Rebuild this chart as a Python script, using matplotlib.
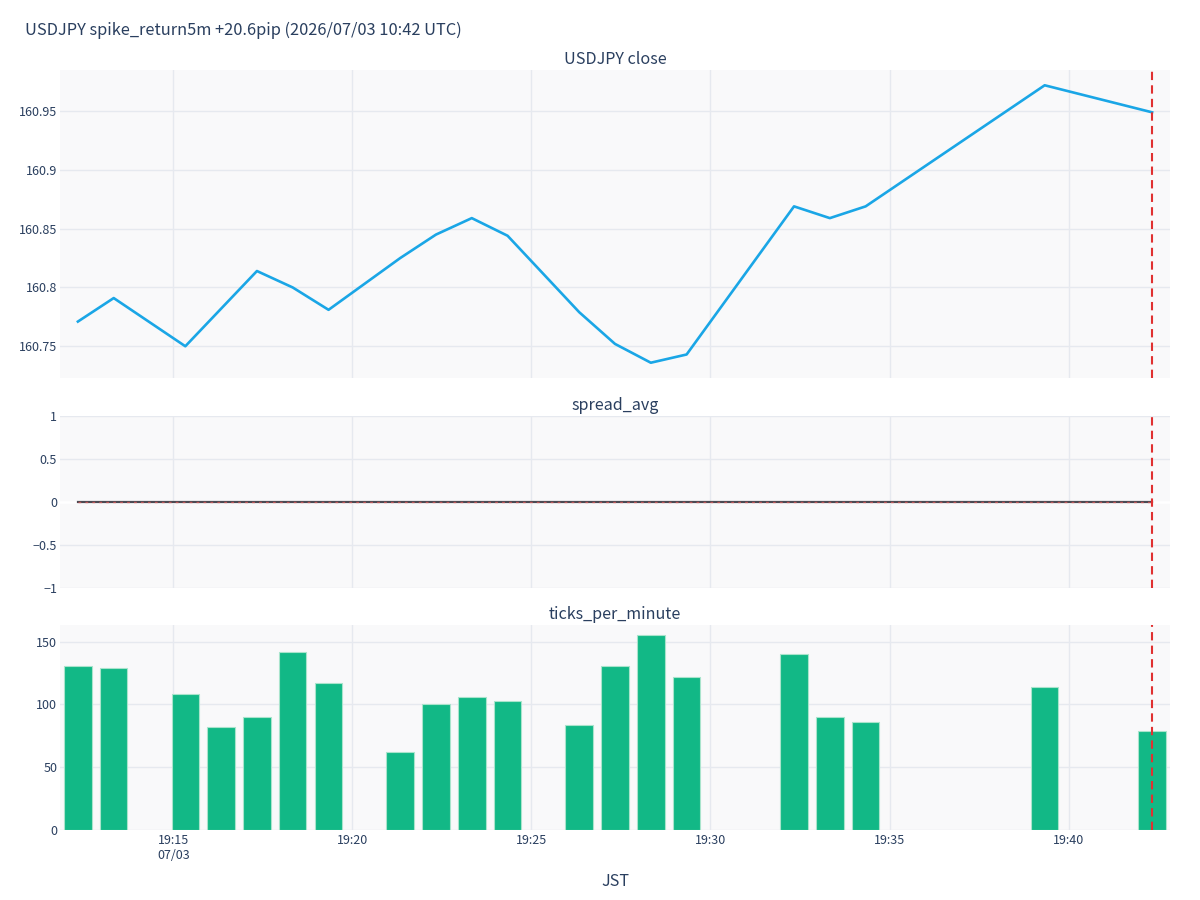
import matplotlib
matplotlib.use("Agg")
import matplotlib.pyplot as plt
import matplotlib.dates as mdates
from datetime import datetime, timedelta

plt.rcParams['font.family'] = ['Noto Sans CJK JP', 'DejaVu Sans']

# ---- data ----
title = "USDJPY spike_return5m +20.6pip (2026/07/03 10:42 UTC)"
minutes = ["19:12", "19:13", "19:15", "19:16", "19:17", "19:18", "19:19",
           "19:21", "19:22", "19:23", "19:24", "19:26", "19:27", "19:28",
           "19:29", "19:32", "19:33", "19:34", "19:39", "19:42"]
close = [160.771, 160.791, 160.750, None, 160.814, 160.800, 160.781,
         160.825, 160.845, 160.859, 160.844, 160.779, 160.752, 160.736,
         160.743, 160.869, 160.859, 160.869, 160.972, 160.949]
spread_avg = [0.0] * 20
ticks_per_minute = [131, 129, 108, 82, 90, 142, 117, 62, 100, 106, 103,
                    84, 131, 155, 122, 140, 90, 86, 114, 79]
event_time = "19:42"
xticks = ["19:15", "19:20", "19:25", "19:30", "19:35", "19:40"]
close_ticks = [160.75, 160.8, 160.85, 160.9, 160.95]
close_tick_labels = ["160.75", "160.8", "160.85", "160.9", "160.95"]
spread_ticks = [-1, -0.5, 0, 0.5, 1]
spread_tick_labels = ["\u22121", "\u22120.5", "0", "0.5", "1"]
tpm_ticks = [0, 50, 100, 150]
tpm_tick_labels = ["0", "50", "100", "150"]

# ---- helpers ----
SEC = 20
def t(s, sec=SEC):
    h, m = map(int, s.split(":"))
    return datetime(2026, 7, 3, h, m, sec)

times = [t(m) for m in minutes]
line_t = [tt for tt, c in zip(times, close) if c is not None]
line_v = [c for c in close if c is not None]

TEXT = "#2a3f5f"
BG = "#f9f9fa"
GRID = "#e6e9ef"

fig = plt.figure(figsize=(12, 9), dpi=100)
W, H = 1200, 900
def rect(l, t_, r, b):
    return [l / W, 1 - b / H, (r - l) / W, (b - t_) / H]

ax1 = fig.add_axes(rect(60, 70, 1170, 378))
ax2 = fig.add_axes(rect(60, 416, 1170, 588), sharex=ax1)
ax3 = fig.add_axes(rect(60, 625, 1170, 830), sharex=ax1)

xmin = t("19:12") - timedelta(seconds=30)
xmax = t("19:42") + timedelta(seconds=30)

for ax in (ax1, ax2, ax3):
    ax.set_facecolor(BG)
    for s in ax.spines.values():
        s.set_visible(False)
    ax.set_axisbelow(True)
    ax.grid(True, color=GRID, linewidth=1.0)
    ax.tick_params(length=0, colors=TEXT, labelsize=9, pad=3)
    ax.tick_params(axis="y", pad=2)
    ax.set_xticks([t(x, 0) for x in xticks])
    ax.set_xlim(xmin, xmax)

# top
ax1.plot(line_t, line_v, color="#1aa6e6", linewidth=1.9, zorder=3)
ax1.set_ylim(160.723, 160.985)
ax1.set_yticks(close_ticks)
ax1.set_yticklabels(close_tick_labels)
ax1.set_title("USDJPY close", fontsize=11.6, color=TEXT, pad=4)

# middle
ax2.axhline(0, color="white", linewidth=2, zorder=2)
ax2.plot(times, spread_avg, color="#4a4a52", linewidth=1.6, zorder=3)
ax2.plot(times, spread_avg, color="#e05a5a", linewidth=1.0, alpha=0.75,
         linestyle=(0, (2, 3)), zorder=4)
ax2.set_ylim(-1, 1)
ax2.set_yticks(spread_ticks)
ax2.set_yticklabels(spread_tick_labels)
ax2.set_title("spread_avg", fontsize=11.6, color=TEXT, pad=4)

# bottom
ax3.bar(times, ticks_per_minute, width=timedelta(seconds=46),
        color="#12b886", edgecolor="#a9e4cc", linewidth=0.8, zorder=3)
ax3.set_ylim(0, 163.3)
ax3.set_yticks(tpm_ticks)
ax3.set_yticklabels(tpm_tick_labels)
ax3.set_title("ticks_per_minute", fontsize=11.6, color=TEXT, pad=4)
ax3.set_xticklabels([xticks[0] + "\n07/03"] + xticks[1:])
ax3.set_xlabel("JST", fontsize=11.6, color=TEXT, labelpad=8)

plt.setp(ax1.get_xticklabels(), visible=False)
plt.setp(ax2.get_xticklabels(), visible=False)

ev = t(event_time)
for ax in (ax1, ax2, ax3):
    ax.axvline(ev, color="#e03131", linewidth=1.5, linestyle=(0, (4, 2.5)), zorder=5)

fig.text(25 / W, 1 - 30 / H, title, fontsize=11.8, color=TEXT, ha="left", va="center")

fig.savefig("out.png", dpi=100, facecolor="white")
